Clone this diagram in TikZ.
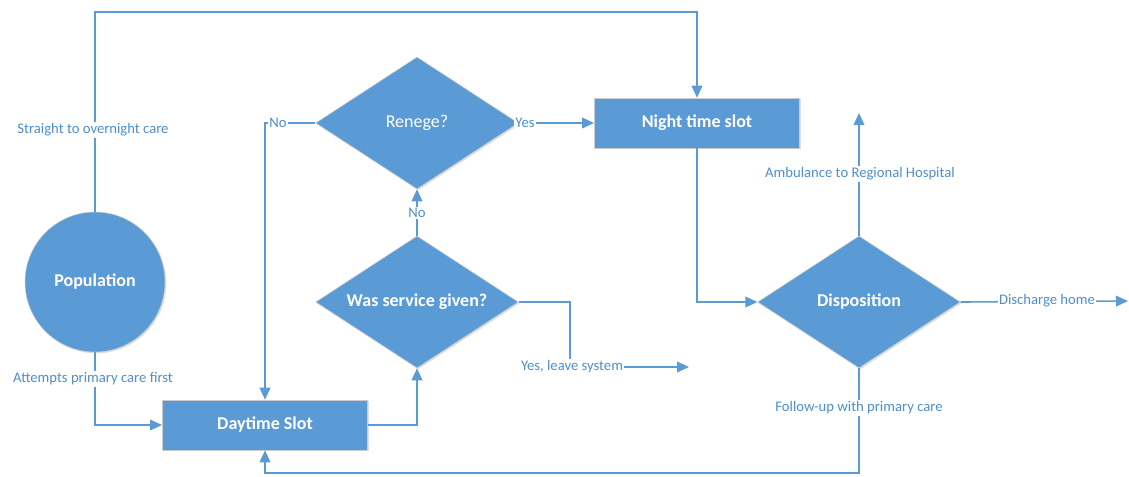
\documentclass[tikz,border=0pt]{standalone}
\usepackage{fontspec}
\setmainfont{Carlito}
\usetikzlibrary{arrows.meta,shapes.geometric,shadows}
\definecolor{offblue}{HTML}{5B9BD5}
\definecolor{lblblue}{HTML}{4F8FCB}

\begin{document}
\begin{tikzpicture}[x=0.75pt,y=-0.75pt,
every node/.style={font=\fontsize{13.5}{16}\selectfont,text=white},
box/.style={rectangle,fill=offblue,draw=black!20,minimum width=154pt,minimum height=37.5pt,
  drop shadow={opacity=.25,shadow xshift=1pt,shadow yshift=-1pt}},
dec/.style={diamond,aspect=1.5,inner sep=0pt,fill=offblue,draw=black!20,minimum width=152pt,minimum height=99pt,
  drop shadow={opacity=.25,shadow xshift=1pt,shadow yshift=-1pt}},
lbl/.style={font=\fontsize{11}{13}\selectfont,text=lblblue,fill=white,inner sep=1pt},
link/.style={draw=offblue,line width=1.2pt},
arr/.style={link,-{Triangle[length=9pt,width=8pt]}}]
\useasboundingbox (0,0) rectangle (1129,476);
\node[circle,fill=offblue,draw=black!20,minimum size=105pt,font=\bfseries\fontsize{13.5}{16}\selectfont,
  drop shadow={opacity=.25,shadow xshift=1pt,shadow yshift=-1pt}] (Pop) at (95,282) {Population};
\node[box,font=\bfseries\fontsize{13.5}{16}\selectfont] (Day) at (265,425) {Daytime Slot};
\node[dec,font=\bfseries\fontsize{13.5}{16}\selectfont] (Serv) at (417,302) {Was service given?};
\node[dec] (Ren) at (417,123) {Renege?};
\node[box,font=\bfseries\fontsize{13.5}{16}\selectfont] (Night) at (697,123) {Night time slot};
\node[dec,font=\bfseries\fontsize{13.5}{16}\selectfont] (Disp) at (859,302) {Disposition};
\coordinate (Leave) at (689,367);
\coordinate (Amb) at (859,113);
\coordinate (Home) at (1128,301);
\draw[arr] (Pop.north) -- (95,12) -| (Night.north);
\draw[arr] (Pop.south) |- (Day.west);
\draw[arr] (Day.east) -| (Serv.south);
\draw[arr] (Serv.north) -- (Ren.south);
\draw[arr] (Ren.west) -| (Day.north);
\draw[arr] (Ren.east) -- (Night.west);
\draw[arr] (Serv.east) -- (570,302) |- (Leave);
\draw[arr] (Night.south) |- (Disp.west);
\draw[arr] (Disp.north) -- (Amb);
\draw[arr] (Disp.east) -- (Home);
\draw[arr] (Disp.south) -- (859,473) -| (Day.south);
% labels on the connectors
\node[lbl] (L1) at (93,130) {Straight to overnight care};
\node[lbl] (L2) at (93,379) {Attempts primary care first};
\node[lbl] (L3) at (417,213) {No};
\node[lbl] (L4) at (278,123) {No};
\node[lbl] (L5) at (525,123) {Yes};
\node[lbl] (L6) at (572,367) {Yes, leave system};
\node[lbl] (L7) at (860,174) {Ambulance to Regional Hospital};
\node[lbl] (L8) at (1047,301) {Discharge home};
\node[lbl] (L9) at (859,408) {Follow-up with primary care};
\end{tikzpicture}
\end{document}
